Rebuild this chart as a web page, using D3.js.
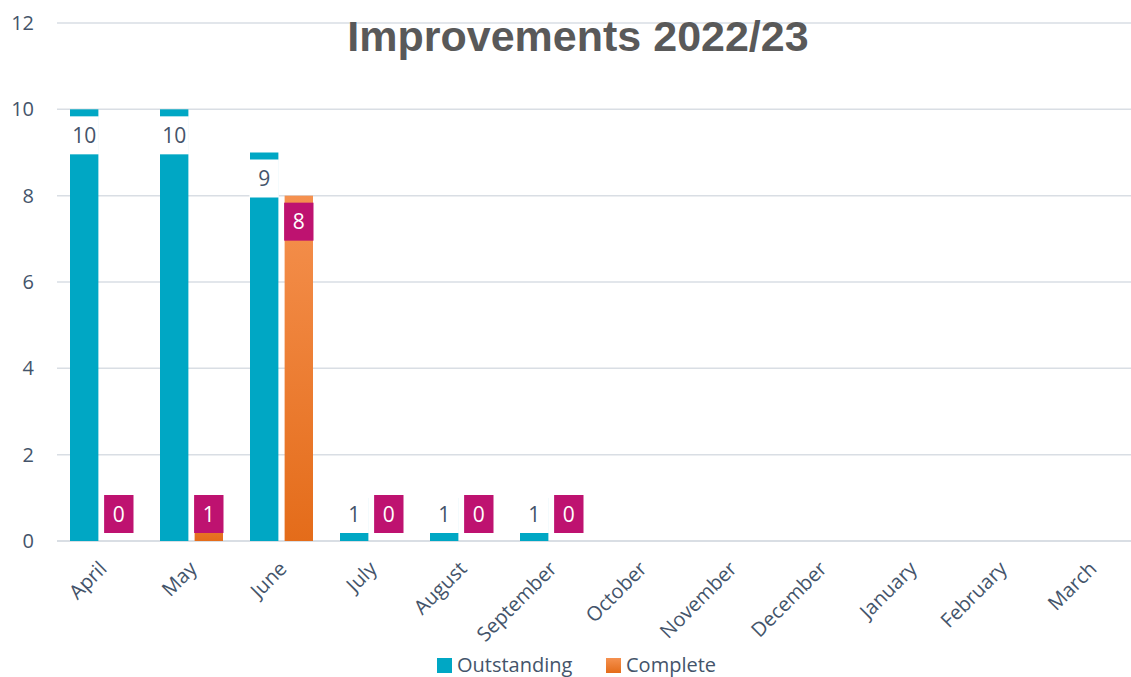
<!DOCTYPE html>
<html><head><meta charset="utf-8">
<script src="https://cdn.jsdelivr.net/npm/d3@7"></script>
<style>html,body{margin:0;padding:0;background:#fff;overflow:hidden}</style>
</head><body>
<svg id="c" width="1131" height="677"></svg>
<script>
const months = ["April","May","June","July","August","September","October","November","December","January","February","March"];
const outstanding = [10,10,9,1,1,1,null,null,null,null,null,null];
const complete = [0,1,8,0,0,0,null,null,null,null,null,null];
const seriesNames = ["Outstanding","Complete"];
const yTicks = [0,2,4,6,8,10,12];
const title = "Improvements 2022/23";

const svg = d3.select("#c");
const font = "'Open Sans', sans-serif";
const textCol = "#44546A";
const teal = "#00A7C4", magenta = "#BE1270";

const defs = svg.append("defs");
const grad = defs.append("linearGradient").attr("id","og").attr("x1",0).attr("y1",0).attr("x2",0).attr("y2",1);
grad.append("stop").attr("offset","0%").attr("stop-color","#F5914F");
grad.append("stop").attr("offset","100%").attr("stop-color","#E46C1A");

const x0 = d3.scaleBand().domain(months).range([57,1137]).padding(0);
const x1 = d3.scaleBand().domain(seriesNames).range([13,76]).paddingInner(0.18);
const y = d3.scaleLinear().domain([0,12]).range([541,23]);

// gridlines
svg.append("g").selectAll("line").data(yTicks).join("line")
  .attr("x1",57).attr("x2",1131).attr("y1",d=>y(d)).attr("y2",d=>y(d))
  .attr("stroke","#D9DEE4").attr("stroke-width",d=>d===0?2:1.5);

// y axis
const yAxis = d3.axisLeft(y).tickValues(yTicks).tickSize(0).tickPadding(0);
const yg = svg.append("g").attr("transform","translate(34,0)").call(yAxis);
yg.select(".domain").remove();
yg.selectAll("text").attr("font-family",font).attr("font-size",20).attr("fill",textCol);

// x axis
const xAxis = d3.axisBottom(x0).tickSize(0).tickPadding(0);
const xg = svg.append("g").attr("transform","translate(0,541)").call(xAxis);
xg.select(".domain").remove();
xg.selectAll("text").attr("font-family",font).attr("font-size",20).attr("fill",textCol)
  .attr("text-anchor","end").attr("dy",0)
  .attr("transform","translate(6,29) rotate(-45)");

const data = [
  {name:"Outstanding", vals: outstanding, fill: teal, boxFill:"#fff", txt: textCol},
  {name:"Complete", vals: complete, fill: "url(#og)", boxFill: magenta, txt:"#fff"}
];
const boxH = 38;
data.forEach(s=>{
  const g = svg.append("g");
  months.forEach((m,i)=>{
    const v = s.vals[i];
    if (v===null) return;
    const bx = x0(m)+x1(s.name), bw = x1.bandwidth();
    if (v>0) g.append("rect").attr("x",bx).attr("y",y(v)).attr("width",bw).attr("height",y(0)-y(v)).attr("fill",s.fill);
    const top = Math.min(y(v)+7, y(0)-8-boxH);
    g.append("rect").attr("x",bx-0.5).attr("y",top).attr("width",bw+1).attr("height",boxH).attr("fill",s.boxFill);
    g.append("text").attr("x",bx+bw/2).attr("y",top+boxH/2).attr("dy","0.36em")
      .attr("text-anchor","middle").attr("font-family",font).attr("font-size",21).attr("fill",s.txt).text(v);
  });
});

// title
svg.append("text").attr("x",578).attr("y",51).attr("text-anchor","middle")
  .attr("font-family","'Liberation Sans', Arial, sans-serif").attr("font-weight","bold")
  .attr("font-size",43).attr("fill","#595959").text(title);

// legend
const leg = svg.append("g");
const legItems = [{name:"Outstanding", fill:teal, x:437},{name:"Complete", fill:"url(#og)", x:606}];
legItems.forEach(l=>{
  leg.append("rect").attr("x",l.x).attr("y",658).attr("width",15).attr("height",15).attr("fill",l.fill);
  leg.append("text").attr("x",l.x+20).attr("y",672).attr("font-family",font).attr("font-size",20).attr("fill",textCol).text(l.name);
});
</script>
</body></html>
